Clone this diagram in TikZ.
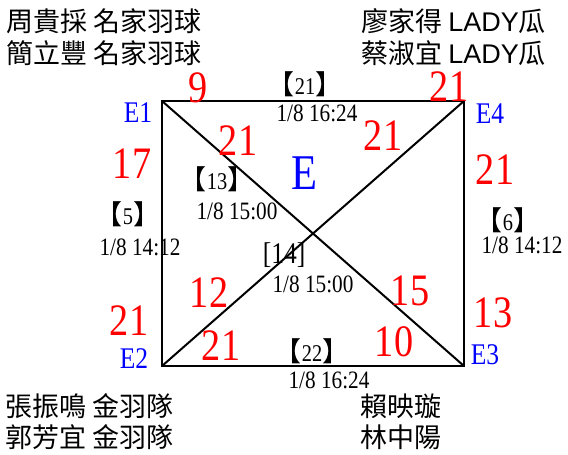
\documentclass[tikz,border=0pt]{standalone}
\usepackage{fontspec}
\newfontfamily\cjkfont{Noto Sans CJK TC}
\newfontfamily\latfont{Liberation Sans}
\newfontfamily\numfont[FakeStretch=0.85]{Liberation Serif}
\newcommand{\brk}[1]{{\cjkfont\fontsize{27}{30}\selectfont 【}#1{\cjkfont\fontsize{27}{30}\selectfont 】}}
\tikzset{
  score/.style={text=red,inner sep=0pt,font=\numfont\fontsize{45}{50}\selectfont},
  corner/.style={text=blue,inner sep=0pt,font=\numfont\fontsize{30}{34}\selectfont},
  match/.style={inner sep=0pt,font=\numfont\fontsize{24}{28}\selectfont},
  when/.style={inner sep=0pt,font=\numfont\fontsize{25}{28}\selectfont},
  team/.style={inner sep=0pt,anchor=west,font=\cjkfont\fontsize{27}{30}\selectfont},
}

\begin{document}
\begin{tikzpicture}[x=1pt,y=-1pt]
		\useasboundingbox (0,0) rectangle (568,455);
		% corners of the group
		\coordinate (e1) at (162,101);
		\coordinate (e4) at (464,101);
		\coordinate (e2) at (162,366);
		\coordinate (e3) at (464,366);
		% frame and diagonals
		\draw[line width=2pt] (e1)--(e4)--(e3)--(e2)--cycle;
		\draw[line width=2pt] (e1)--(e3);
		\draw[line width=2pt] (e2)--(e4);
		% pairs
		\node[team] (p1a) at (6,21)  {周貴採 名家羽球};
		\node[team] (p1b) at (6,53)  {簡立豐 名家羽球};
		\node[team] (p4a) at (361,21) {廖家得 {\latfont LADY}瓜};
		\node[team] (p4b) at (361,53) {蔡淑宜 {\latfont LADY}瓜};
		\node[team] (p2a) at (5,406) {張振鳴 金羽隊};
		\node[team] (p2b) at (5,437) {郭芳宜 金羽隊};
		\node[team] (p3a) at (360,406) {賴映璇};
		\node[team] (p3b) at (360,437) {林中陽};
		% corner labels
		\node[corner] (l1) at (138,113) {E1};
		\node[corner] (l4) at (490,114) {E4};
		\node[corner] (l2) at (134,359) {E2};
		\node[corner] (l3) at (485,355) {E3};
		\node[corner,font=\numfont\fontsize{50}{54}\selectfont] (grp) at (304,173) {E};
		% match numbers and times
		\node[match] (m21) at (305,84)  {\brk{21}};
		\node[when]  (t21) at (317,113) {1/8 16:24};
		\node[match] (m22) at (312,351) {\brk{22}};
		\node[when]  (t22) at (329,380) {1/8 16:24};
		\node[match] (m5)  at (128,214) {\brk{5}};
		\node[when]  (t5)  at (140,247) {1/8 14:12};
		\node[match] (m6)  at (508,220) {\brk{6}};
		\node[when]  (t6)  at (522,245) {1/8 14:12};
		\node[match] (m13) at (217,179) {\brk{13}};
		\node[when]  (t13) at (237,211) {1/8 15:00};
		\node[match,font=\numfont\fontsize{30}{34}\selectfont] (m14) at (284,255) {[14]};
		\node[when]  (t14) at (313,284) {1/8 15:00};
		% scores
		\node[score] (s1)  at (198,88)  {9};
		\node[score] (s2)  at (449,87)  {21};
		\node[score] (s3)  at (238,141) {21};
		\node[score] (s4)  at (383,136) {21};
		\node[score] (s5)  at (132,164) {17};
		\node[score] (s6)  at (495,170) {21};
		\node[score] (s7)  at (209,293) {12};
		\node[score] (s8)  at (410,291) {15};
		\node[score] (s9)  at (129,321) {21};
		\node[score] (s10) at (493,313) {13};
		\node[score] (s11) at (221,346) {21};
		\node[score] (s12) at (394,342) {10};
	\end{tikzpicture}
\end{document}
